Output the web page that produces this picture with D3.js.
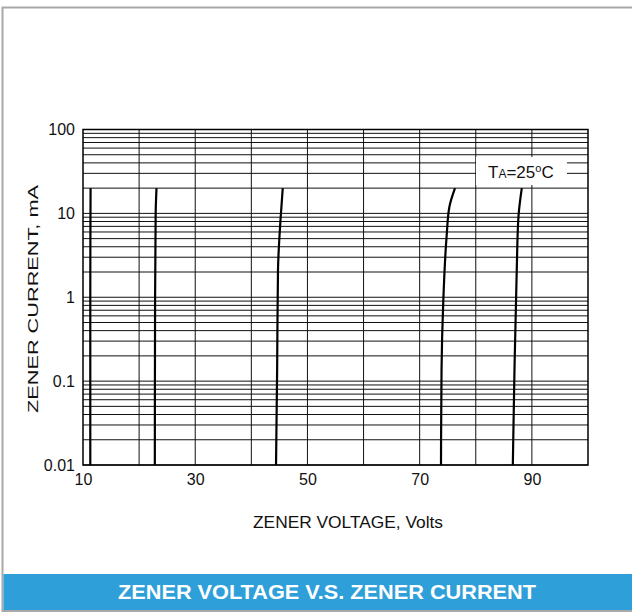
<!DOCTYPE html>
<html>
<head>
<meta charset="utf-8">
<script src="https://cdn.jsdelivr.net/npm/d3@7"></script>
<style>
  html, body { margin: 0; padding: 0; background: #fff; }
  svg { display: block; }
  text { font-family: "Liberation Sans", Arial, Helvetica, sans-serif; }
</style>
</head>
<body>
<svg id="chart"></svg>
<script>
// zener voltage (V) vs zener current (mA)
var curve11 = [[11.3, 0.01], [11.3, 1], [11.35, 20]];
var curve23 = [[22.8, 0.01], [22.85, 1], [22.95, 10], [23.1, 20]];
var curve45 = [[44.4, 0.01], [44.6, 0.14], [44.75, 2.1], [45.2, 8.4], [45.6, 20]];
var curve75 = [[73.8, 0.01], [73.9, 0.14], [74.2, 0.86], [74.8, 5.3], [75.3, 12], [76.3, 20]];
var curve88 = [[86.6, 0.01], [86.9, 0.14], [87.3, 2.1], [87.6, 9], [88.2, 20]];
var curves = [curve11, curve23, curve45, curve75, curve88];

var xTickLabels = [10, 30, 50, 70, 90];
var yTickLabels = [0.01, 0.1, 1, 10, 100];
var xTitle = "ZENER VOLTAGE, Volts";
var yTitle = "ZENER CURRENT, mA";
var chartTitle = "ZENER VOLTAGE V.S. ZENER CURRENT";

(function() {
  var width = 632, height = 612;
  var m = { left: 83, right: 588, top: 129.5, bottom: 465 };

  var svg = d3.select("#chart").attr("width", width).attr("height", height);

  // frame of the card
  svg.append("rect")
    .attr("x", 0).attr("y", 0).attr("width", width).attr("height", height)
    .attr("fill", "#fff");
  svg.append("path")
    .attr("d", "M 2.5,612 V 7.5 H 632")
    .attr("fill", "none")
    .attr("stroke", "#a8a8a8")
    .attr("stroke-width", 2);
  svg.append("rect")
    .attr("x", 3.5).attr("y", 574).attr("width", width - 3.5).attr("height", 36.5)
    .attr("fill", "#2f9fda");
  svg.append("line")
    .attr("x1", 2).attr("x2", width).attr("y1", 611).attr("y2", 611)
    .attr("stroke", "#a8a8a8").attr("stroke-width", 2);
  svg.append("text")
    .attr("x", 327).attr("y", 599)
    .attr("text-anchor", "middle")
    .attr("fill", "#fff")
    .attr("textLength", 418)
    .attr("lengthAdjust", "spacingAndGlyphs")
    .style("font-size", "20px")
    .style("font-weight", "bold")
    .text(chartTitle);

  var x = d3.scaleLinear().domain([10, 100]).range([m.left, m.right]);
  var y = d3.scaleLog().domain([0.01, 100]).range([m.bottom, m.top]);

  var grid = svg.append("g");

  // horizontal log grid
  grid.selectAll(".hgrid")
    .data(y.ticks())
    .enter()
    .append("line")
    .attr("class", "hgrid")
    .attr("x1", m.left).attr("x2", m.right)
    .attr("y1", function(d) { return y(d); })
    .attr("y2", function(d) { return y(d); })
    .attr("stroke", "#111")
    .attr("stroke-width", 1);

  // vertical grid every 10 V
  grid.selectAll(".vgrid")
    .data(d3.range(20, 100, 10))
    .enter()
    .append("line")
    .attr("class", "vgrid")
    .attr("y1", m.top).attr("y2", m.bottom)
    .attr("x1", function(d) { return x(d); })
    .attr("x2", function(d) { return x(d); })
    .attr("stroke", "#111")
    .attr("stroke-width", 1);

  svg.append("rect")
    .attr("x", m.left).attr("y", m.top)
    .attr("width", m.right - m.left).attr("height", m.bottom - m.top)
    .attr("fill", "none")
    .attr("stroke", "#000")
    .attr("stroke-width", 1.5);

  // tick labels
  var gx = svg.append("g")
    .attr("transform", "translate(0," + m.bottom + ")")
    .call(d3.axisBottom(x).tickValues(xTickLabels).tickSize(0).tickPadding(9));
  gx.select(".domain").remove();
  gx.selectAll("text").attr("font-family", null).style("font-size", "16px").attr("fill", "#111");

  var gy = svg.append("g")
    .attr("transform", "translate(" + m.left + ",0)")
    .call(d3.axisLeft(y).tickValues(yTickLabels).tickSize(0).tickPadding(8)
      .tickFormat(function(d) { return String(d); }));
  gy.select(".domain").remove();
  gy.selectAll("text").attr("font-family", null).style("font-size", "16px").attr("fill", "#111");

  // axis titles
  svg.append("text")
    .attr("x", 348).attr("y", 528)
    .attr("text-anchor", "middle")
    .attr("fill", "#111")
    .attr("textLength", 190)
    .attr("lengthAdjust", "spacingAndGlyphs")
    .style("font-size", "16px")
    .text(xTitle);
  svg.append("text")
    .attr("transform", "translate(38,299) rotate(-90)")
    .attr("text-anchor", "middle")
    .attr("fill", "#111")
    .attr("textLength", 228)
    .attr("lengthAdjust", "spacingAndGlyphs")
    .style("font-size", "15px")
    .text(yTitle);

  // temperature note
  svg.append("rect")
    .attr("x", 476).attr("y", 157).attr("width", 91).attr("height", 28)
    .attr("fill", "#fff");
  var note = svg.append("text")
    .attr("x", 488).attr("y", 178)
    .attr("fill", "#111")
    .style("font-size", "17px");
  note.append("tspan").text("T");
  note.append("tspan").style("font-size", "12px").text("A");
  note.append("tspan").text("=25");
  note.append("tspan").style("font-size", "11px").attr("dy", -6).text("o");
  note.append("tspan").attr("dy", 6).text("C");

  // curves
  var line = d3.line()
    .x(function(d) { return x(d[0]); })
    .y(function(d) { return y(d[1]); })
    .curve(d3.curveMonotoneY);

  svg.selectAll(".curve")
    .data(curves)
    .enter()
    .append("path")
    .attr("class", "curve")
    .attr("d", line)
    .attr("fill", "none")
    .attr("stroke", "#000")
    .attr("stroke-width", 2.2);
})();
</script>
</body>
</html>
